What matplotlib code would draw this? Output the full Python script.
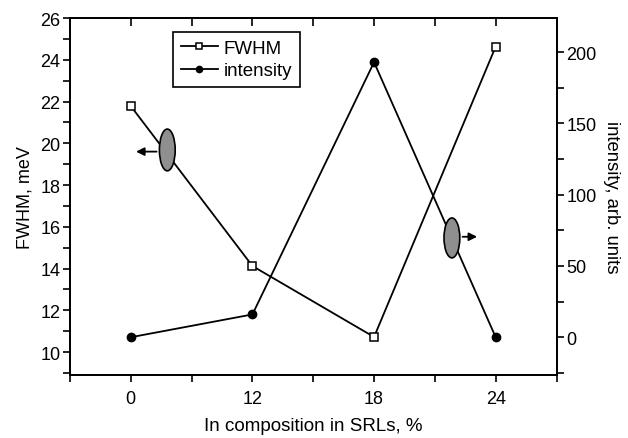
import numpy as np
import matplotlib.pyplot as plt
from matplotlib.patches import Ellipse
from matplotlib.ticker import MultipleLocator

plt.rcParams['font.family'] = ['Liberation Sans', 'DejaVu Sans']

# In composition in SRLs, %
composition = ['0', '12', '18', '24']
fwhm = [21.78, 14.12, 10.72, 24.63]
intensity = [0.0, 16.0, 193.0, 0.0]

pos = np.arange(len(composition))

fig = plt.figure(figsize=(6.28, 4.39), dpi=100)
ax = fig.add_axes([70 / 628, 1 - 376 / 439, 486.5 / 628, 357 / 439])
ax2 = ax.twinx()

l1, = ax.plot(pos, fwhm, color='black', lw=1.3, marker='s', markersize=6,
              markerfacecolor='white', markeredgecolor='black', markeredgewidth=1.1,
              label='FWHM')
l2, = ax2.plot(pos, intensity, color='black', lw=1.3, marker='o', markersize=6,
               markerfacecolor='black', label='intensity')

ax.set_xlim(-0.5, 3.5)
ax.set_ylim(8.9, 26)
ax2.set_ylim(-26.5, 224)

ax.set_xticks(pos)
ax.set_xticklabels(composition)
ax.xaxis.set_minor_locator(MultipleLocator(0.5))
ax.yaxis.set_major_locator(MultipleLocator(2))
ax.yaxis.set_minor_locator(MultipleLocator(1))
ax2.yaxis.set_major_locator(MultipleLocator(50))
ax2.yaxis.set_minor_locator(MultipleLocator(25))

ax.tick_params(axis='x', which='both', direction='out', top=True, labeltop=False,
               length=5, width=1.2, labelsize=13, pad=6)
ax.tick_params(axis='y', which='both', direction='out', length=5, width=1.2,
               labelsize=13, right=False, pad=2)
ax2.tick_params(axis='y', which='both', direction='out', length=5, width=1.2,
                labelsize=13, pad=2)
# top ticks point inward
for t in ax.xaxis.get_major_ticks() + ax.xaxis.get_minor_ticks():
    t.tick2line.set_marker(3)
    t.tick2line.set_markersize(6)

for a in (ax, ax2):
    for s in a.spines.values():
        s.set_linewidth(1.3)

ax.set_xlabel('In composition in SRLs, %', fontsize=13.5, labelpad=7)
ax.set_ylabel('FWHM, meV', fontsize=13, labelpad=5)
ax2.set_ylabel('intensity, arb. units', fontsize=13.3, rotation=270, labelpad=17)

# ellipses with arrows marking which axis each curve belongs to
e1 = Ellipse((0.30, 19.68), 0.13, 2.0, facecolor='#8f8f8f', edgecolor='black', lw=1.2, zorder=5)
ax.add_patch(e1)
ax.annotate('', xy=(0.02, 19.6), xytext=(0.235, 19.6),
            arrowprops=dict(arrowstyle='-|>', color='black', lw=1.3, mutation_scale=12))
e2 = Ellipse((2.64, 69.7), 0.13, 28, facecolor='#8f8f8f', edgecolor='black', lw=1.2, zorder=5)
ax2.add_patch(e2)
ax2.annotate('', xy=(2.87, 70.5), xytext=(2.705, 70.5),
             arrowprops=dict(arrowstyle='-|>', color='black', lw=1.3, mutation_scale=12))

leg = ax2.legend(handles=[l1, l2], loc='upper left', bbox_to_anchor=(0.212, 0.961),
                 borderaxespad=0, fancybox=False, edgecolor='black', framealpha=1,
                 fontsize=13.5, handlelength=2.0, handletextpad=0.3, borderpad=0.4,
                 labelspacing=0.3, markerscale=0.75)
leg.get_frame().set_linewidth(1.2)

fig.savefig('out.png', dpi=100)
